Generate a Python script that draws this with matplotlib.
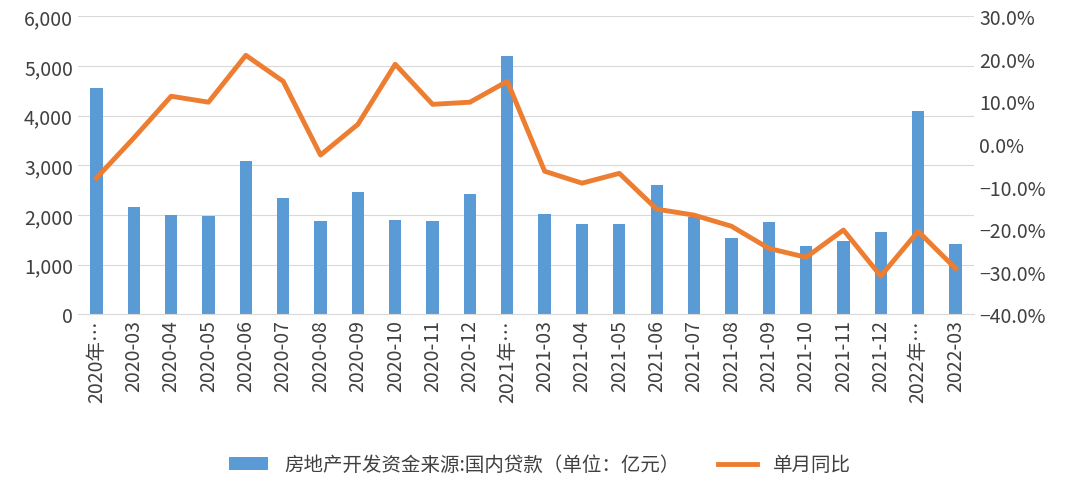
import matplotlib.pyplot as plt
import matplotlib.ticker as mtick

plt.rcParams['font.family'] = ['Noto Sans CJK SC', 'DejaVu Sans']

months = ['2020年…', '2020-03', '2020-04', '2020-05', '2020-06', '2020-07', '2020-08',
          '2020-09', '2020-10', '2020-11', '2020-12', '2021年…', '2021-03', '2021-04',
          '2021-05', '2021-06', '2021-07', '2021-08', '2021-09', '2021-10', '2021-11',
          '2021-12', '2022年…', '2022-03']
loans = [4550, 2170, 2000, 1970, 3080, 2350, 1880, 2470, 1900, 1880, 2420, 5200,
         2020, 1820, 1820, 2600, 1950, 1530, 1850, 1380, 1480, 1650, 4100, 1410]
yoy = [-8.0, 1.4, 11.2, 9.8, 20.8, 14.7, -2.6, 4.6, 18.7, 9.3, 9.8, 14.7,
       -6.4, -9.2, -6.9, -15.3, -16.7, -19.3, -24.5, -26.6, -20.2, -31.0, -20.5, -29.2]

fig, ax = plt.subplots(figsize=(10.8, 4.89), dpi=100)
fig.subplots_adjust(left=0.072, right=0.902, top=0.965, bottom=0.355)
x = range(len(months))
b = ax.bar(x, loans, width=0.33, color='#5B9BD5', label='房地产开发资金来源:国内贷款（单位：亿元）')
ax.set_ylim(0, 6000)
ax.yaxis.set_major_formatter(mtick.StrMethodFormatter('{x:,.0f}'))
ax.set_xlim(-0.5, len(months) - 0.5)
ax.set_xticks(list(x))
ax.set_xticklabels(months, rotation=90)
ax.grid(axis='y', color='#d9d9d9', lw=0.8)
ax.set_axisbelow(True)
for s in ['top', 'right', 'left']:
    ax.spines[s].set_visible(False)
ax.spines['bottom'].set_color('#d9d9d9')
ax.tick_params(length=0, labelsize=14, colors='#404040')

ax2 = ax.twinx()
l, = ax2.plot(x, yoy, color='#ED7D31', lw=3.5, label='单月同比')
ax2.set_ylim(-40, 30)
ax2.yaxis.set_major_formatter(mtick.StrMethodFormatter('{x:.1f}%'))
for s in ax2.spines.values():
    s.set_visible(False)
ax2.tick_params(length=0, labelsize=14, colors='#404040')

fig.legend([b, l], [b.get_label(), l.get_label()], loc='lower center', ncol=2,
           frameon=False, fontsize=14, bbox_to_anchor=(0.5, -0.01), labelcolor='#404040')
fig.savefig('out.png')
